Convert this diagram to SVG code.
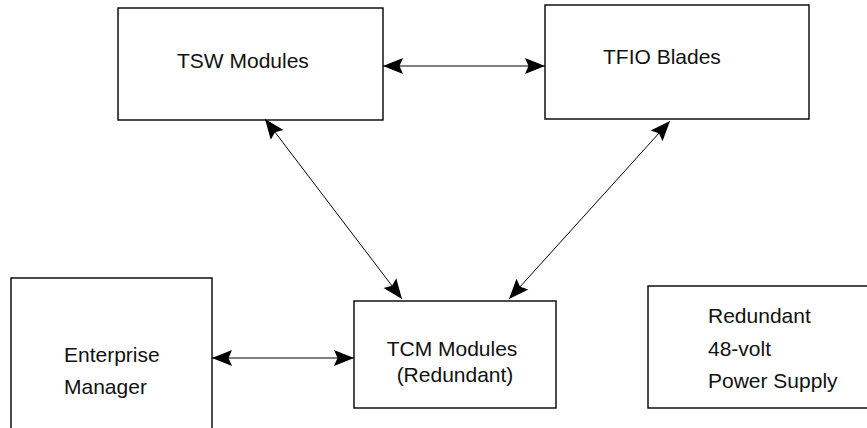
<svg xmlns="http://www.w3.org/2000/svg" width="867" height="428" viewBox="0 0 867 428">
  <style>
    .box { fill: #fff; stroke: #000; stroke-width: 1.4; }
    .label { font-family: "Liberation Sans", Arial, sans-serif; font-size: 21px; fill: #111; }
    .link { stroke: #000; stroke-width: 1; fill: none; marker-start: url(#head); marker-end: url(#head); }
  </style>
  <defs>
    <marker id="head" viewBox="-21 -9 22 18" refX="0" refY="0" markerWidth="22" markerHeight="18" markerUnits="userSpaceOnUse" orient="auto-start-reverse">
      <path d="M0,0 L-20,-8 L-16.5,0 L-20,8 Z" fill="#000"/>
    </marker>
  </defs>
  <rect width="867" height="428" fill="#fff"/>

  <g id="tsw-modules">
    <rect class="box" x="118" y="8" width="265" height="112"/>
    <text class="label" x="177" y="68">TSW Modules</text>
  </g>

  <g id="tfio-blades">
    <rect class="box" x="545" y="5" width="264" height="114"/>
    <text class="label" x="603" y="64">TFIO Blades</text>
  </g>

  <g id="enterprise-manager">
    <rect class="box" x="11" y="278" width="201" height="170"/>
    <text class="label" x="64" y="362">Enterprise</text>
    <text class="label" x="64" y="394">Manager</text>
  </g>

  <g id="tcm-modules">
    <rect class="box" x="354" y="301" width="202" height="107"/>
    <text class="label" x="452" y="356" text-anchor="middle">TCM Modules</text>
    <text class="label" x="455" y="382" text-anchor="middle">(Redundant)</text>
  </g>

  <g id="power-supply">
    <rect class="box" x="648" y="286" width="230" height="122"/>
    <text class="label" x="708" y="323">Redundant</text>
    <text class="label" x="708" y="356">48-volt</text>
    <text class="label" x="708" y="388">Power Supply</text>
  </g>

  <g id="connectors">
    <line class="link" x1="383" y1="66" x2="545" y2="66"/>
    <line class="link" x1="265" y1="119" x2="402" y2="299"/>
    <line class="link" x1="670" y1="121" x2="509" y2="299"/>
    <line class="link" x1="212" y1="358" x2="354" y2="358"/>
  </g>
</svg>
